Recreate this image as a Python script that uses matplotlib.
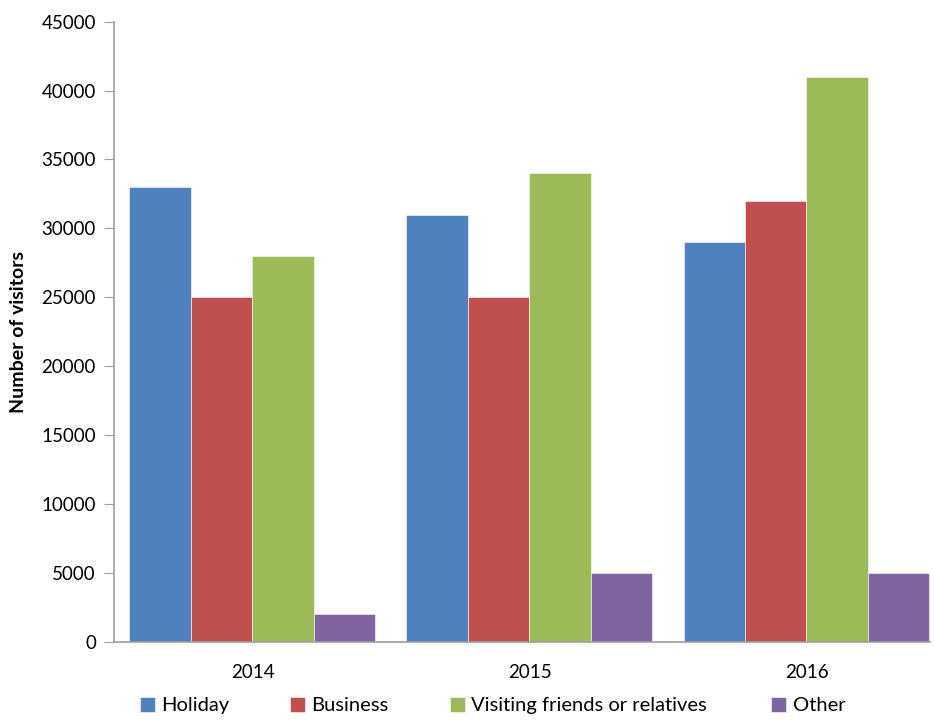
import numpy as np
import matplotlib.pyplot as plt

years = ["2014", "2015", "2016"]
holiday = [33000, 31000, 29000]
business = [25000, 25000, 32000]
visiting = [28000, 34000, 41000]
other = [2000, 5000, 5000]

series = [("Holiday", holiday, "#4F81BD"),
          ("Business", business, "#C0504D"),
          ("Visiting friends or relatives", visiting, "#9BBB59"),
          ("Other", other, "#8064A2")]

plt.rcParams['font.family'] = ['Lato', 'DejaVu Sans']

fig = plt.figure(figsize=(9.35, 7.2), dpi=100)
ax = fig.add_axes([0.1219, 0.1083, 0.8728, 0.8617])

x = np.arange(len(years))
w = 0.222
bars = []
for i, (name, vals, col) in enumerate(series):
    b = ax.bar(x + (i - 1.5) * w, vals, w, color=col, label=name,
               edgecolor="white", linewidth=0.4)
    bars.append(b)

ax.set_xlim(-0.5, 2.446)
ax.set_ylim(0, 45000)
ax.set_yticks(np.arange(0, 45001, 5000))
ax.set_xticks(x)
ax.set_xticklabels(years)
ax.tick_params(axis="y", direction="out", length=7, color="#A0A0A0",
               labelsize=13.5, pad=6)
ax.tick_params(axis="x", length=0, labelsize=13.5, pad=16)
for s in ["top", "right"]:
    ax.spines[s].set_visible(False)
for s in ["left", "bottom"]:
    ax.spines[s].set_color("#A0A0A0")
    ax.spines[s].set_linewidth(1.2)

ax.set_ylabel("Number of visitors", fontsize=14, fontweight="bold", labelpad=10)

# one legend per entry so each sits where it should along the bottom
legend_x = [0.150, 0.310, 0.481, 0.825]
for b, (name, _, _), lx in zip(bars, series, legend_x):
    leg = fig.legend([b], [name], loc="center left", bbox_to_anchor=(lx, 0.02),
                     frameon=False, fontsize=14.5, handlelength=0.75,
                     handleheight=0.75, handletextpad=0.3,
                     borderpad=0, borderaxespad=0)

fig.savefig("out.png", dpi=100)
